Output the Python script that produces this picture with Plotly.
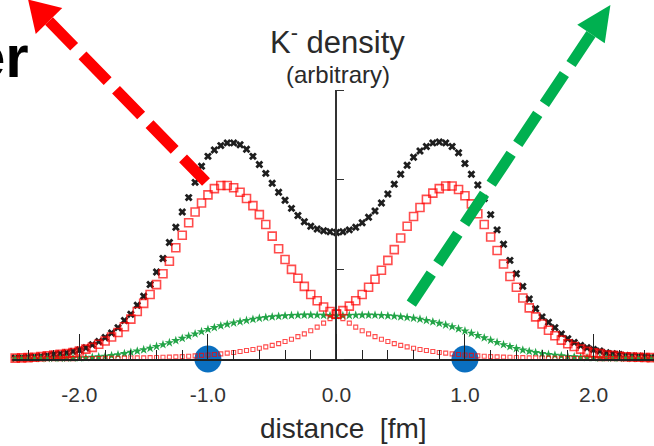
import numpy as np
import plotly.graph_objects as go

# ---------------- data ----------------
distance = np.round(np.linspace(-2.5, 2.5, 101), 2).tolist()

red_left = [
    0.010, 0.012, 0.015, 0.020, 0.027, 0.035, 0.045, 0.052, 0.060, 0.072,
    0.090, 0.110, 0.130, 0.165, 0.200, 0.245, 0.295, 0.360, 0.445, 0.530,
    0.620, 0.720, 0.830, 0.950, 1.090, 1.240, 1.380, 1.520, 1.640, 1.740,
    1.830, 1.900, 1.935, 1.935, 1.910, 1.860, 1.790, 1.710, 1.610, 1.500,
    1.370, 1.230, 1.110, 1.000, 0.900, 0.810, 0.720, 0.650, 0.580, 0.530,
    0.500,
    0.450, 0.400, 0.355, 0.315, 0.280, 0.250, 0.220, 0.195, 0.172, 0.152,
    0.135, 0.120, 0.106, 0.094, 0.083, 0.073, 0.065, 0.057, 0.050, 0.045,
    0.040, 0.035, 0.031, 0.027, 0.024, 0.021, 0.019, 0.017, 0.015, 0.013,
    0.012, 0.011, 0.010, 0.009, 0.008, 0.007, 0.006, 0.006, 0.005, 0.005,
    0.004, 0.004, 0.004, 0.003, 0.003, 0.003, 0.003, 0.002, 0.002, 0.002,
]

red_right = [
    0.002, 0.002, 0.002, 0.003, 0.003, 0.003, 0.003, 0.004, 0.004, 0.004,
    0.005, 0.005, 0.006, 0.006, 0.007, 0.008, 0.009, 0.010, 0.011, 0.012,
    0.013, 0.015, 0.017, 0.019, 0.021, 0.024, 0.027, 0.031, 0.035, 0.040,
    0.045, 0.050, 0.057, 0.065, 0.073, 0.083, 0.094, 0.106, 0.120, 0.135,
    0.152, 0.172, 0.195, 0.220, 0.250, 0.280, 0.315, 0.355, 0.400, 0.450,
    0.500,
    0.540, 0.590, 0.650, 0.720, 0.800, 0.890, 0.990, 1.100, 1.220, 1.350,
    1.480, 1.590, 1.690, 1.780, 1.850, 1.900, 1.930, 1.930, 1.890, 1.820,
    1.730, 1.620, 1.500, 1.360, 1.210, 1.060, 0.920, 0.800, 0.680, 0.570,
    0.470, 0.390, 0.320, 0.260, 0.210, 0.170, 0.140, 0.110, 0.085, 0.070,
    0.060, 0.045, 0.040, 0.030, 0.025, 0.022, 0.020, 0.017, 0.015, 0.012,
]

total_density = [
    0.012, 0.015, 0.020, 0.025, 0.030, 0.040, 0.050, 0.060, 0.070, 0.085,
    0.100, 0.125, 0.160, 0.195, 0.240, 0.290, 0.350, 0.430, 0.500, 0.600,
    0.700, 0.830, 0.970, 1.120, 1.300, 1.470, 1.640, 1.800, 1.970, 2.150,
    2.260, 2.330, 2.380, 2.410, 2.410, 2.390, 2.340, 2.260, 2.170, 2.070,
    1.960, 1.860, 1.770, 1.680, 1.600, 1.530, 1.480, 1.450, 1.430, 1.420,
    1.410,
    1.420, 1.440, 1.470, 1.520, 1.580, 1.650, 1.740, 1.840, 1.950, 2.060,
    2.160, 2.250, 2.320, 2.370, 2.410, 2.420, 2.410, 2.370, 2.300, 2.180,
    2.060, 1.940, 1.790, 1.610, 1.440, 1.280, 1.100, 0.950, 0.810, 0.670,
    0.560, 0.470, 0.410, 0.350, 0.280, 0.225, 0.185, 0.150, 0.125, 0.105,
    0.090, 0.070, 0.060, 0.050, 0.040, 0.035, 0.030, 0.025, 0.020, 0.015,
]

green_density = [
    0.004, 0.004, 0.005, 0.005, 0.006, 0.006, 0.007, 0.008, 0.009, 0.010,
    0.012, 0.015, 0.019, 0.024, 0.030, 0.038, 0.048, 0.060, 0.074, 0.088,
    0.103, 0.120, 0.140, 0.160, 0.182, 0.205, 0.230, 0.255, 0.280, 0.305,
    0.330, 0.350, 0.370, 0.387, 0.402, 0.416, 0.430, 0.443, 0.455, 0.463,
    0.470, 0.476, 0.481, 0.485, 0.488, 0.490, 0.490, 0.489, 0.487, 0.484,
    0.481,
    0.483, 0.486, 0.488, 0.490, 0.490, 0.489, 0.486, 0.482, 0.477, 0.470,
    0.463, 0.455, 0.444, 0.430, 0.415, 0.398, 0.380, 0.360, 0.337, 0.312,
    0.287, 0.262, 0.236, 0.210, 0.185, 0.160, 0.138, 0.118, 0.100, 0.085,
    0.071, 0.060, 0.050, 0.042, 0.035, 0.029, 0.024, 0.020, 0.016, 0.013,
    0.011, 0.010, 0.009, 0.008, 0.007, 0.006, 0.005, 0.005, 0.004, 0.004,
]

nucleon_x = [-1.0, 1.0]
nucleon_y = [0.0, 0.0]

x_tick_vals = [-2.0, -1.0, 0.0, 1.0, 2.0]
x_tick_text = ["-2.0", "-1.0", "0.0", "1.0", "2.0"]

# ---------------- layout geometry ----------------
W, H = 654, 446
ML, MR, MT, MB = 13, 0, 90, 87
XMIN, XMAX = -2.517, 2.471
PW, PH = W - ML - MR, H - MT - MB


def P(xp, yp):
    """pixel -> paper coordinates"""
    return (xp - ML) / PW, (H - MB - yp) / PH


FONT = "Liberation Sans, Arial, sans-serif"
RED = "#ff0000"
GREEN = "#00b050"

fig = go.Figure()

fig.add_trace(go.Scatter(
    x=nucleon_x, y=nucleon_y, mode="markers", cliponaxis=False,
    marker=dict(size=27, color="#0a6fc0", line=dict(width=0)),
))
fig.add_trace(go.Scatter(
    x=distance, y=total_density, mode="markers", cliponaxis=False,
    marker=dict(symbol="x", size=7, color="#1e1e1e", line=dict(width=0)),
))
fig.add_trace(go.Scatter(
    x=distance, y=green_density, mode="markers", cliponaxis=False,
    marker=dict(symbol="star", size=7, color="#22a447", line=dict(width=0)),
))

left_sizes = [8 if x <= 0 else 4 for x in distance]
left_lw = [1.6 if x <= 0 else 1.1 for x in distance]
right_sizes = [8 if x >= 0 else 4 for x in distance]
right_lw = [1.6 if x >= 0 else 1.1 for x in distance]

fig.add_trace(go.Scatter(
    x=distance, y=red_left, mode="markers", cliponaxis=False,
    marker=dict(symbol="square-open", size=left_sizes, color=RED,
                line=dict(width=left_lw, color=RED)),
))
fig.add_trace(go.Scatter(
    x=distance, y=red_right, mode="markers", cliponaxis=False,
    marker=dict(symbol="square-open", size=right_sizes, color=RED,
                line=dict(width=right_lw, color=RED)),
))

# ---------------- arrows (dashed shaft + triangular head) ----------------
shapes = []


def arrow(start, base, head_len, head_w, color):
    sx, sy = start
    bx, by = base
    dx, dy = bx - sx, by - sy
    L = (dx ** 2 + dy ** 2) ** 0.5
    ux, uy = dx / L, dy / L
    nx, ny = -uy, ux
    tip = (bx + ux * head_len, by + uy * head_len)
    c1 = (bx + nx * head_w / 2, by + ny * head_w / 2)
    c2 = (bx - nx * head_w / 2, by - ny * head_w / 2)
    p0, p1 = P(bx, by), P(sx, sy)
    shapes.append(dict(type="line", xref="paper", yref="paper",
                       x0=p0[0], y0=p0[1], x1=p1[0], y1=p1[1],
                       line=dict(color=color, width=11, dash="36px,12px"),
                       layer="above"))
    pts = [P(*tip), P(*c1), P(*c2)]
    path = "M {} {} L {} {} L {} {} Z".format(
        pts[0][0], pts[0][1], pts[1][0], pts[1][1], pts[2][0], pts[2][1])
    shapes.append(dict(type="path", xref="paper", yref="paper", path=path,
                       fillcolor=color, line=dict(width=0), layer="above"))


arrow((206, 182), (49, 21), 30, 37, RED)
arrow((407, 310), (591, 34), 35, 33, GREEN)

# ---------------- texts ----------------
annotations = []


def txt(text, xp, yp, size, color="#2a2a2a", xanchor="center", bold=False):
    px, py = P(xp, yp)
    if bold:
        text = "<b>" + text + "</b>"
    annotations.append(dict(text=text, x=px, y=py, xref="paper", yref="paper",
                            xanchor=xanchor, yanchor="middle", showarrow=False,
                            font=dict(family=FONT, size=size, color=color)))


txt("K<sup>-</sup> density", 338, 40, 31)
txt("(arbitrary)", 338, 74, 24)
txt("distance  [fm]", 343, 428, 28)
txt("er", 31, 56, 60, color="#000000", xanchor="right", bold=True)

fig.update_layout(
    width=W, height=H,
    margin=dict(l=ML, r=MR, t=MT, b=MB),
    paper_bgcolor="white", plot_bgcolor="white",
    showlegend=False,
    shapes=shapes,
    annotations=annotations,
    xaxis=dict(
        range=[XMIN, XMAX], showgrid=False, zeroline=False,
        showline=True, linecolor="#222", linewidth=1.5,
        ticks="inside", ticklen=25, tickwidth=1.2, tickcolor="#222",
        tickmode="array", tickvals=x_tick_vals, ticktext=x_tick_text,
        tickfont=dict(family=FONT, size=21, color="#333"),
        ticklabelstandoff=16,
        minor=dict(tickmode="linear", tick0=0, dtick=0.2, ticks="inside",
                   ticklen=9, tickwidth=1, tickcolor="#222", showgrid=False),
    ),
    yaxis=dict(
        range=[0, 3], anchor="free", position=(0 - XMIN) / (XMAX - XMIN),
        side="right", showgrid=False, zeroline=False,
        showline=True, linecolor="#333", linewidth=1.5,
        ticks="outside", ticklen=7, tickwidth=1, tickcolor="#333",
        tick0=0, dtick=1, showticklabels=False,
    ),
)

fig.write_html("out.html",
               config={"displayModeBar": False},
               post_script="document.body.style.margin='0px';"
                           "document.body.style.padding='0px';")
